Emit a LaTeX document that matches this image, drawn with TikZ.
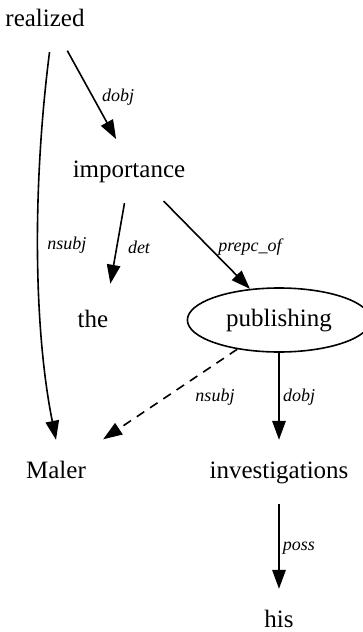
\documentclass[tikz,border=0pt]{standalone}
\usepackage{fontspec}
\setmainfont{Liberation Serif}
\usetikzlibrary{arrows.meta,shapes.geometric}

\begin{document}
\begin{tikzpicture}[x=1pt, y=-1pt,
    word/.style={ellipse, minimum width=96pt, minimum height=64pt, inner xsep=12pt, inner ysep=2pt,
      text height=17pt, text depth=5pt, font=\fontsize{25}{30}\selectfont},
    rel/.style={inner sep=0pt, font=\fontsize{18}{22}\selectfont\itshape},
    dep/.style={-{Triangle[length=19pt,width=13.5pt]}, line width=1.6pt}]
      \useasboundingbox (0,0) rectangle (362,632);

      % words
      \node[word] (realized) at (45,20) {realized};
      \node[word] (importance) at (129,171) {importance};
      \node[word] (the) at (93,321) {the};
      \node[word, draw, line width=1.6pt] (publishing) at (279,320) {publishing};
      \node[word] (Maler) at (56,472) {Maler};
      \node[word] (investigations) at (279,472) {investigations};
      \node[word] (his) at (279,621) {his};

      % dependencies
      \draw[dep] (realized.-54) -- (importance.112);
      \draw[dep] (realized.-82) .. controls (32,190) and (34,330) .. (Maler.north);
      \draw[dep, shorten >=7pt] (importance.-98) -- (the.62);
      \draw[dep] (importance.-41) -- (publishing.133);
      \draw[dep, dash pattern=on 9pt off 7pt, shorten >=13pt] (publishing.215) -- (Maler.35);
      \draw[dep] (publishing) -- (investigations);
      \draw[dep] (investigations) -- (his);

      % relation names
      \node[rel] (dobjA) at (118,97) {dobj};
      \node[rel] (nsubjA) at (67,245) {nsubj};
      \node[rel] (det) at (139,247) {det};
      \node[rel] (prepcof) at (250,247) {prepc\_of};
      \node[rel] (nsubjB) at (215,397) {nsubj};
      \node[rel] (dobjB) at (299,397) {dobj};
      \node[rel] (poss) at (299,548) {poss};
\end{tikzpicture}
\end{document}
